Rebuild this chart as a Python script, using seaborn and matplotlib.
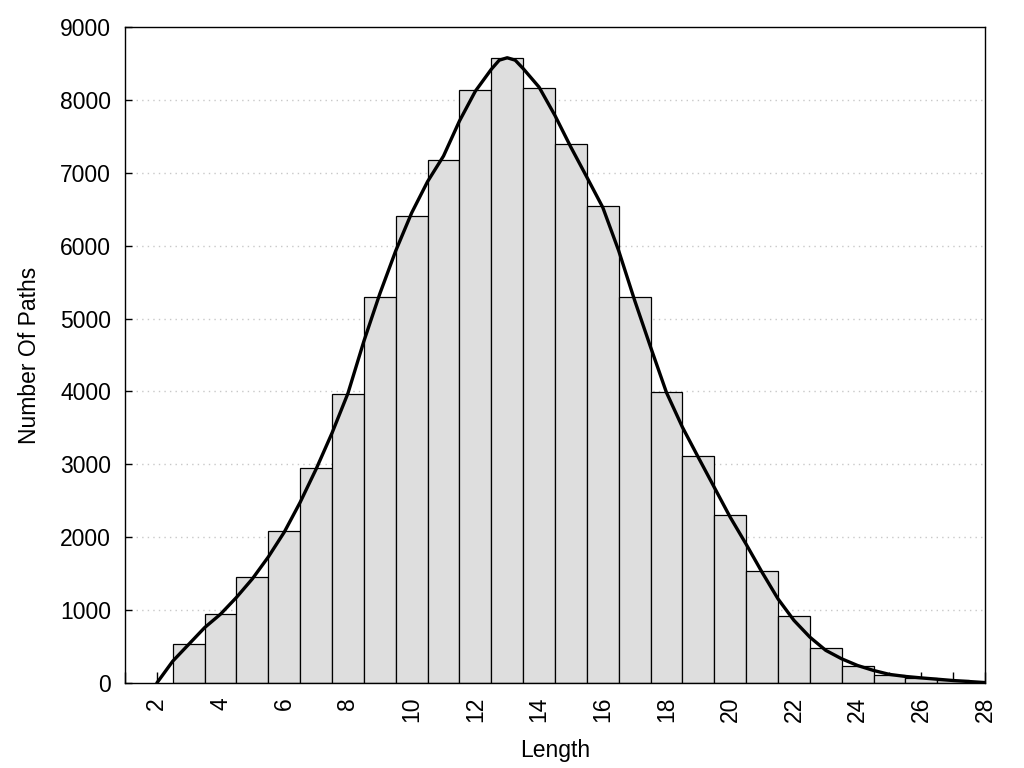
import matplotlib
matplotlib.use("Agg")
import matplotlib.pyplot as plt
import seaborn as sns
import numpy as np
import pandas as pd

# Histogram data: path length -> number of paths
lengths = [3, 4, 5, 6, 7, 8, 9, 10, 11, 12, 13, 14, 15, 16, 17, 18, 19, 20,
           21, 22, 23, 24, 25, 26, 27]
counts = [530, 940, 1460, 2090, 2950, 3960, 5300, 6410, 7180, 8130, 8580,
          8160, 7390, 6550, 5290, 3995, 3115, 2308, 1535, 920, 480, 235,
          115, 72, 42]

# Smoothed curve (x, y)
curve_x = [2, 2.5, 3, 3.5, 4, 4.5, 5, 5.5, 6, 6.5, 7, 7.5, 8, 8.5, 9, 9.5,
           10, 10.5, 11, 11.5, 12, 12.5, 12.75, 13, 13.25, 13.5, 14, 14.5,
           15, 15.5, 16, 16.5, 17, 17.5, 18, 18.5, 19, 19.5, 20, 20.5, 21,
           21.5, 22, 22.5, 23, 23.5, 24, 24.5, 25, 25.5, 26, 26.5, 27, 27.5,
           28]
curve_y = [0, 300, 530, 760, 945, 1175, 1430, 1730, 2070, 2480, 2935, 3430,
           3975, 4690, 5340, 5930, 6450, 6880, 7230, 7710, 8120, 8420, 8545,
           8578, 8545, 8430, 8175, 7785, 7350, 6940, 6525, 5930, 5250, 4610,
           3985, 3510, 3095, 2685, 2275, 1905, 1520, 1155, 860, 630, 448,
           332, 240, 172, 118, 90, 70, 52, 34, 20, 6]

y_ticks = [0, 1000, 2000, 3000, 4000, 5000, 6000, 7000, 8000, 9000]
x_ticks = [2, 4, 6, 8, 10, 12, 14, 16, 18, 20, 22, 24, 26, 28]

sns.set_style("white")
plt.rcParams['font.family'] = ['Liberation Sans', 'DejaVu Sans']
plt.rcParams['text.color'] = 'black'
plt.rcParams['axes.labelcolor'] = 'black'
plt.rcParams['xtick.color'] = 'black'
plt.rcParams['ytick.color'] = 'black'

fig = plt.figure(figsize=(10.24, 7.68), dpi=100)
ax = fig.add_axes([125/1024, 1-683/768, 860/1024, 656/768])

hist_df = pd.DataFrame({"Length": lengths, "Count": counts})
curve_df = pd.DataFrame({"x": curve_x, "y": curve_y})

for yv in y_ticks[1:-1]:
    ax.axhline(yv, color="#c8c8c8", linestyle=(0, (1, 3)), linewidth=1.0,
               zorder=0)

sns.histplot(data=hist_df, x="Length", weights="Count", discrete=True,
             color="#dedede", edgecolor="black", linewidth=0.9, alpha=1,
             ax=ax, zorder=2)
sns.lineplot(data=curve_df, x="x", y="y", color="black", linewidth=2.4,
             ax=ax, zorder=3, sort=False)
ax.lines[-1].set_solid_joinstyle("round")
ax.lines[-1].set_solid_capstyle("round")

ax.set_xlim(1, 28)
ax.set_ylim(0, 9000)
ax.set_xticks(x_ticks)
ax.set_xticks(list(range(1, 29, 2)), minor=True)
ax.set_yticks(y_ticks)
ax.set_xticklabels([str(v) for v in x_ticks], rotation=90, fontsize=16.5)
ax.set_yticklabels([str(v) for v in y_ticks], fontsize=16.5)
ax.tick_params(axis="x", which="both", direction="in", length=7.7,
               width=1, pad=10, bottom=True, top=False, colors="black")
ax.tick_params(axis="y", direction="in", length=5, width=1, pad=10,
               left=True, right=False, colors="black")
ax.set_xlabel("Length", fontsize=16.5, labelpad=12, color="black")
ax.set_ylabel("Number Of Paths", fontsize=16.5, labelpad=14, color="black")

for s in ax.spines.values():
    s.set_visible(True)
    s.set_color("black")
    s.set_linewidth(1.0)

fig.savefig("out.png", dpi=100, facecolor="white")
